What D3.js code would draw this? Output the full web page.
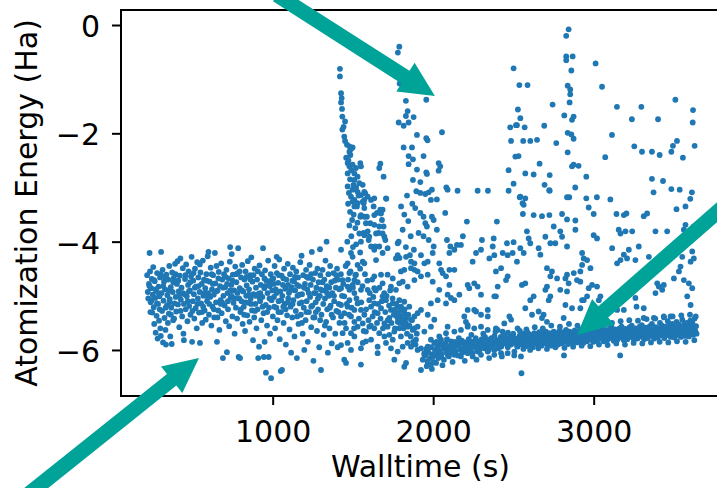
<!DOCTYPE html>
<html><head><meta charset="utf-8">
<script src="https://cdn.jsdelivr.net/npm/d3@7"></script>
<style>body{margin:0;background:#fff;} svg{display:block;font-family:"DejaVu Sans",sans-serif;}</style>
</head><body><svg id="c" width="717" height="488"></svg>
<script>
const xTicks=[1000,2000,3000];
const yTicks=[0,-2,-4,-6];
const xLabel="Walltime (s)";
const yLabel="Atomization Energy (Ha)";

// walltime (s), atomization energy (Ha)
const earlyCloud=[
[218,-4.62],[222,-4.93],[225,-5.05],[229,-4.78],[233,-4.21],[236,-4.55],[240,-5.12],[243,-4.86],[247,-4.69],[250,-5.31],[253,-4.98],[256,-4.47],[259,-5.21],[262,-5.52],[265,-4.73],[268,-5.04],[271,-5.68],[274,-4.91],[277,-5.37],[280,-4.58],[283,-5.79],[286,-5.15],[289,-4.83],[292,-5.46],[295,-5.01],[298,-4.66],[300,-5.6],
[303,-5.74],[305,-4.19],[308,-4.95],[311,-5.28],[314,-4.52],[317,-5.86],[320,-5.09],[323,-4.74],[326,-5.41],[329,-4.88],[332,-5.63],[335,-5.9],[338,-4.61],[341,-5.18],[344,-4.99],[347,-5.5],[350,-4.7],[353,-5.33],[356,-4.45],[359,-5.06],[362,-5.75],[365,-4.84],[368,-5.22],[371,-5.89],[374,-4.57],[377,-4.93],[380,-5.45],[384,-4.67],[388,-5.14],[392,-4.41],[396,-5.02],[399,-5.29],
[403,-4.78],[407,-4.36],[410,-5.16],[414,-4.92],[418,-5.58],[421,-4.63],[425,-4.31],[428,-5.07],[432,-4.85],[436,-5.38],[440,-4.49],[444,-5.7],[447,-5.82],[450,-4.97],[454,-4.69],[458,-5.25],[461,-4.42],[465,-5.01],[469,-5.47],[473,-4.8],[476,-4.55],[480,-5.19],[484,-4.9],[488,-5.35],[491,-4.64],[495,-4.28],[498,-5.85],
[502,-5.1],[505,-4.72],[509,-4.97],[512,-5.42],[516,-4.5],[520,-5.23],[523,-4.83],[527,-5.6],[530,-4.38],[534,-5.05],[537,-4.66],[541,-5.31],[545,-4.93],[547,-5.87],[550,-4.57],[554,-5.14],[558,-4.78],[561,-5.5],[565,-4.35],[568,-5.0],[572,-4.7],[576,-5.27],[580,-4.86],[583,-5.44],[587,-4.6],[591,-5.1],[595,-4.27],[598,-4.95],
[600,-4.19],[603,-5.35],[607,-4.74],[611,-5.02],[614,-4.48],[618,-5.55],[622,-4.88],[625,-5.2],[629,-4.62],[633,-4.98],[636,-5.4],[640,-4.21],[643,-4.77],[647,-5.12],[650,-4.45],[653,-5.85],[657,-4.9],[661,-5.27],[664,-4.56],[668,-5.63],[672,-4.82],[675,-5.08],[679,-4.4],[682,-5.32],[686,-4.7],[690,-6.15],[693,-5.0],[697,-4.6],
[701,-5.18],[704,-4.84],[708,-5.47],[712,-4.52],[715,-6.04],[719,-4.95],[722,-5.25],[726,-4.68],[729,-5.56],[733,-4.37],[735,-4.1],[738,-5.04],[742,-4.8],[745,-4.23],[749,-5.38],[752,-4.61],[756,-5.13],[760,-4.9],[763,-5.7],[767,-4.46],[771,-5.22],[774,-4.75],[778,-5.42],[782,-4.58],[785,-4.12],[788,-6.13],[791,-5.05],[795,-4.86],[797,-6.15],[799,-5.3],
[803,-4.66],[806,-5.1],[810,-4.43],[813,-5.52],[817,-4.92],[820,-5.2],[824,-4.7],[828,-5.65],[831,-4.55],[835,-5.0],[838,-4.81],[842,-5.36],[845,-4.36],[849,-5.13],[853,-4.88],[856,-5.48],[860,-4.62],[863,-5.05],[867,-4.29],[871,-5.27],[874,-4.74],[878,-5.82],[881,-4.97],[885,-5.4],[888,-4.5],[892,-5.15],[896,-4.85],[899,-5.6],
[903,-4.7],[906,-5.25],[910,-6.15],[913,-4.96],[915,-5.94],[918,-4.44],[922,-5.1],[925,-4.8],[929,-5.45],[933,-4.6],[936,-5.02],[940,-4.12],[943,-5.32],[945,-6.13],[948,-4.86],[950,-5.85],[953,-4.53],[957,-5.17],[958,-6.42],[961,-4.72],[965,-5.55],[968,-4.95],[972,-4.35],[975,-6.13],[977,-5.22],[981,-4.82],[984,-5.7],[988,-4.6],[990,-6.52],[993,-5.08],[997,-4.9],
[1001,-5.38],[1004,-4.68],[1008,-5.02],[1012,-4.45],[1015,-5.6],[1019,-4.88],[1023,-5.22],[1025,-4.28],[1026,-4.58],[1030,-5.45],[1034,-4.76],[1037,-5.1],[1041,-4.33],[1044,-5.8],[1048,-4.92],[1050,-6.39],[1052,-5.3],[1056,-4.63],[1058,-6.37],[1060,-5.0],[1064,-4.8],[1068,-5.5],[1071,-4.5],[1075,-5.15],[1079,-4.87],[1082,-5.9],[1086,-4.7],[1090,-5.36],[1094,-4.41],[1097,-5.05],
[1101,-4.95],[1105,-5.62],[1108,-4.6],[1112,-5.2],[1115,-6.05],[1118,-4.84],[1122,-5.4],[1126,-4.48],[1129,-5.08],[1133,-4.73],[1136,-5.75],[1140,-4.9],[1144,-5.28],[1147,-4.55],[1151,-6.15],[1154,-5.0],[1158,-4.66],[1161,-5.52],[1165,-4.82],[1168,-5.14],[1172,-4.38],[1176,-5.35],[1180,-4.26],[1183,-4.97],[1187,-5.7],[1190,-4.62],[1194,-5.22],[1197,-6.0],
[1201,-4.78],[1205,-5.45],[1208,-4.52],[1212,-5.1],[1215,-4.88],[1219,-5.85],[1222,-4.67],[1226,-5.3],[1230,-4.43],[1233,-5.02],[1237,-4.8],[1240,-5.58],[1244,-4.19],[1247,-5.18],[1251,-4.7],[1254,-6.2],[1258,-4.95],[1261,-5.4],[1265,-4.58],[1268,-5.12],[1272,-4.85],[1276,-5.65],[1279,-4.5],[1283,-5.25],[1286,-4.75],[1290,-5.95],[1294,-5.0],[1295,-4.14],[1297,-4.62],[1301,-6.37],
[1304,-5.35],[1308,-4.9],[1311,-4.52],[1315,-5.15],[1318,-5.72],[1322,-4.7],[1326,-5.05],[1329,-4.35],[1333,-5.48],[1336,-4.82],[1340,-5.25],[1344,-6.05],[1347,-4.6],[1351,-5.0],[1354,-5.6],[1358,-4.45],[1361,-5.18],[1365,-4.75],[1368,-5.88],[1372,-4.95],[1376,-5.4],[1379,-4.58],[1383,-5.1],[1390,-5.7],[1394,-4.85],[1397,-5.28],[1401,-4.5],[1405,-5.95],[1408,-4.7],[1412,-5.15],[1416,-5.5]
];
const earlyCore=[
[232,-4.82],[246,-5.08],[261,-4.71],[279,-5.14],[290,-4.95],[302,-4.6],[318,-4.82],[333,-5.22],[349,-4.9],[366,-5.35],[381,-4.75],[395,-4.6],[412,-4.72],[426,-5.28],[441,-4.95],[456,-4.62],[471,-5.1],[486,-4.75],[500,-5.28],[515,-4.85],[531,-5.15],[546,-4.42],[560,-5.3],[574,-4.95],[589,-4.72],[605,-5.15],[620,-4.6],[634,-5.25],[648,-4.92],[662,-4.68],[677,-5.15],[691,-4.85],[706,-4.65],[721,-5.1],[736,-4.9],[750,-4.72],[765,-5.05],[780,-4.95],[794,-4.55],[808,-4.9],[822,-5.35],[837,-4.65],[851,-4.98],[866,-5.15],[880,-4.62],[894,-5.0],[908,-4.55],[923,-4.95],[937,-5.2],[952,-4.82],[966,-5.3],[980,-5.05],[995,-4.7],[1010,-5.2],[1024,-4.95],[1039,-4.62],[1053,-5.08],[1067,-4.68],[1081,-5.25],[1096,-4.8],[1110,-4.9],[1124,-5.15],[1139,-4.65],[1153,-5.38],[1167,-4.98],[1182,-5.5],[1196,-4.85],[1210,-5.3],[1225,-4.95],[1239,-4.6],[1253,-5.4],[1268,-4.95],[1282,-5.05],[1296,-5.45],[1310,-4.75],[1325,-5.55],[1339,-4.95],[1353,-4.85],[1367,-5.35],[1382,-5.0],[1396,-4.62],[1410,-5.3],
[238,-5.3],[270,-4.88],[296,-5.25],[327,-4.65],[357,-5.12],[386,-5.42],[417,-5.0],[447,-5.15],[478,-4.92],[507,-4.58],[538,-4.82],[567,-5.2],[596,-5.02],[627,-4.78],[656,-5.4],[685,-5.12],[716,-4.78],[744,-5.0],[773,-4.6],[802,-5.25],[832,-5.12],[861,-4.7],[890,-5.28],[920,-5.05],[949,-4.68],[978,-4.75],[1007,-4.78],[1036,-5.3],[1066,-5.2],[1094,-5.12],[1123,-4.72],[1152,-4.8],[1181,-5.12],[1211,-4.65],[1240,-5.2],[1269,-5.3],[1298,-4.88],[1327,-4.9],[1356,-5.22],[1386,-4.72],[1415,-4.88]
];
const spikeOne=[
[1419,-0.81],[1419,-0.95],[1426,-1.26],[1430,-1.35],[1426,-1.43],[1432,-1.55],[1434,-1.69],[1451,-1.78],[1442,-1.88],[1434,-1.93],[1446,-2.06],[1451,-2.14],[1463,-2.21],[1478,-2.24],[1488,-2.29],[1498,-2.26],[1478,-2.34],[1484,-2.4],[1467,-2.55],[1478,-2.61],[1498,-2.58],[1519,-2.64],[1546,-2.55],[1550,-2.61],[1467,-2.74],[1509,-2.74],[1529,-2.8],[1509,-2.86],[1540,-2.92],[1561,-2.95],[1467,-2.98],[1498,-3.04],[1529,-3.08],[1571,-3.08],[1550,-3.14],[1592,-3.17],[1488,-3.17],[1509,-3.23],[1571,-3.23],[1633,-3.2],[1671,-2.56],[1664,-2.64],[1691,-2.8],[1706,-3.2],
[1458,-2.45],[1472,-2.5],[1490,-2.68],[1503,-2.95],[1520,-3.0],[1482,-2.85],[1535,-3.15],[1475,-3.1],
[1577,-3.11],[1629,-3.35],[1650,-3.47],[1670,-3.41],[1681,-3.6],[1691,-3.72],[1660,-3.84],[1702,-3.97],[1639,-4.09],[1598,-3.97],[1567,-3.84],[1546,-3.54],[1525,-3.35],[1587,-3.54],[1608,-3.66],[1567,-3.29],
[1498,-3.26],[1529,-3.29],[1561,-3.26],[1613,-3.23],[1509,-3.35],[1571,-3.38],[1550,-3.51],[1571,-3.54],[1633,-3.51],[1675,-3.48],[1685,-3.41],[1581,-3.66],[1633,-3.69],[1664,-3.72],[1592,-3.81],[1571,-3.88],[1644,-3.85],[1685,-3.85],[1696,-3.91],[1550,-4.0],[1602,-3.91],[1613,-4.09],[1633,-4.15],[1664,-4.09],[1685,-4.21],[1716,-4.12],[1644,-4.34],[1571,-4.4],[1561,-4.37],[1529,-4.43],[1488,-4.21],[1498,-4.28],[1467,-4.4],[1426,-4.15],[1336,-4.0],
[1470,-3.3],[1482,-3.45],[1495,-3.6],[1505,-3.5],[1515,-3.75],[1528,-3.65],[1490,-3.9],[1520,-4.05],[1540,-3.85],[1478,-3.7],[1500,-4.1],[1545,-4.2],[1465,-4.0]
];
const spikeTwo=[
[1789,-0.4],[1780,-0.51],[1791,-1.08],[1830,-1.4],[1957,-1.38],[1841,-1.59],[1830,-1.68],[1878,-1.7],[1785,-1.8],[1816,-1.86],[1847,-1.8],[1899,-2.03],[1957,-2.09],[1965,-2.13],[2055,-1.98],[1816,-2.26],[1868,-2.26],[1847,-2.42],[1874,-2.48],[1940,-2.42],[1847,-2.57],[1899,-2.67],[1957,-2.72],[2034,-2.55],[2044,-2.61],[2034,-2.69],[1874,-2.86],[1920,-2.9],[1961,-2.75],[1837,-3.15],[1895,-3.07],[1920,-3.1],[1951,-3.12],[1972,-3.09],[1992,-3.04],[2023,-3.22],[1986,-3.23],[1708,-3.21],
[2082,-3.0],[2090,-3.04],[2152,-3.06],[2277,-3.06],[2341,-3.06],
[1888,-3.38],[1920,-3.47],[1940,-3.54],[1951,-3.66],[1961,-3.72],[1992,-3.54],[2003,-3.6],[2023,-3.78],[1909,-3.84],[1940,-3.9],[1972,-3.97],[2003,-4.09],[2075,-3.47],[2086,-3.97],[2107,-4.09],[2148,-4.06],[2185,-3.9],[2210,-3.63],[2304,-3.97],[2377,-3.94],[2397,-3.63],[2460,-4.03],[2501,-4.01],[2543,-4.12],[1785,-4.0],
[1800,-3.35],[1820,-3.5],[1845,-3.62],[1810,-3.78],[1860,-3.9],[1830,-4.1],[1870,-3.3],[1855,-4.25],[1790,-4.3],[1880,-4.15]
];
const midCloud=[
[1779,-4.03],[1779,-4.25],[1768,-4.31],[1831,-4.28],[1862,-4.37],[1883,-4.4],[1924,-4.25],[1945,-4.4],[1799,-4.55],[1820,-4.52],[1862,-4.49],[1883,-4.52],[1716,-4.61],[1748,-4.68],[1675,-4.61],[1633,-4.64],[1633,-4.86],[1685,-4.77],[1737,-4.83],[1768,-4.89],[1789,-4.77],[1810,-4.74],[1841,-4.83],[1883,-4.71],[1903,-4.55],[1924,-4.64],[1966,-4.61],[1966,-4.37],[1997,-4.21],[2038,-4.4],[2049,-4.52],[2059,-4.58],[2080,-4.64],[2101,-4.52],[2132,-4.52],[2101,-4.8],[1997,-4.74],[2038,-4.89],[2090,-4.98],[2111,-5.04],[2163,-4.98],[2215,-4.8],[2256,-4.77],[2225,-4.86],[2277,-4.83],[2246,-4.37],[2267,-4.21],[2298,-4.15],[2350,-4.31],[2381,-4.25],[2433,-4.21],[2495,-4.21],[2391,-4.55],[2423,-4.49],[2464,-4.64],[2454,-4.71],[2402,-4.83],[2391,-5.01],[2298,-4.98],[2215,-5.26],[2267,-5.29],[2340,-5.26],[2381,-5.01],[2204,-5.48],[2215,-5.54],[2090,-5.57],[2038,-5.75],[1986,-5.57],[1945,-5.66],[1903,-5.57],[1862,-5.44],[1924,-5.26],[1986,-5.14],[2028,-5.08],[2080,-5.14],[2132,-5.08],[2007,-5.44],[1966,-5.35],[2371,-4.09],[2464,-4.25],[2132,-4.15],[2173,-4.06],[2101,-4.21],
[1758,-5.26],[1779,-5.2],[1799,-5.26],[1820,-5.32],[1768,-5.35],[1799,-5.38],[1831,-5.41],[1779,-5.48],[1810,-5.51],[1841,-5.57],[1872,-5.63],[1789,-5.6],[1758,-5.66],[1716,-5.57],[1696,-5.51],[1727,-5.41],[1748,-5.14],[1789,-5.08],[1820,-5.11],[1851,-5.2],[1883,-5.38],[1903,-5.32],[1737,-5.26],[1675,-5.23],[1706,-5.08],[1685,-5.01],[1633,-5.14],[1613,-5.2],[1602,-5.08],[1654,-5.32],[1623,-5.38],[1571,-5.35],[1550,-5.26],[1529,-5.14],[1509,-4.95],[1550,-4.89],[1592,-4.89],[1509,-5.26],[1478,-5.08],[1467,-5.2],[1446,-5.32],[1426,-5.38],[1446,-5.01],[1478,-4.89],[1426,-5.17],[1488,-5.38],[1509,-5.48],[1529,-5.57],[1561,-5.51],[1581,-5.66],[1602,-5.57],[1633,-5.6],[1664,-5.69],[1696,-5.75],[1727,-5.72],[1748,-5.81],[1799,-5.75],[1810,-5.94],[1841,-5.87],[1862,-5.94],[1893,-5.81],[1903,-6.0],[1924,-5.97],[1945,-6.06],[1966,-5.94],[1935,-6.18],[1966,-6.24],[1924,-6.37],[1820,-6.31],[1831,-6.24],[1779,-6.03],[1737,-5.97],[1561,-5.87],[1581,-5.84],[1509,-5.75],[1488,-5.69],[1457,-5.6],[1436,-5.69],[1446,-6.18],[1457,-6.24],[1550,-6.27],[1654,-6.06],[1426,-5.91],[1467,-5.87],[1488,-6.0],[1550,-5.97],[1613,-5.81],[1654,-5.94],[1706,-5.87],[1758,-6.18],
[1478,-4.58],[1519,-4.61],[1509,-4.71],[1498,-4.8],[1467,-4.83],[1426,-4.86],[1436,-4.71],
[1425,-4.6],[1432,-5.0],[1440,-4.78],[1448,-5.5],[1455,-4.45],[1462,-5.15],[1470,-4.7],[1476,-5.35],[1485,-4.55],[1492,-5.22],[1500,-4.85],[1507,-5.6],[1515,-4.62],[1522,-5.05],[1530,-4.75],[1537,-5.42],[1545,-4.5],[1552,-5.12],[1560,-4.82],[1567,-5.65],[1575,-4.6],[1582,-5.25],[1590,-4.72],[1597,-5.45],[1605,-4.95],[1612,-5.55],[1620,-4.7],[1627,-5.02],[1635,-5.3],[1642,-4.9],[1650,-5.5],[1657,-5.15],[1665,-4.85],[1672,-5.42],[1680,-5.1],[1687,-5.6],[1695,-4.95],[1702,-5.3],[1710,-5.0],[1717,-5.45],[1725,-5.18],[1732,-4.9],[1740,-5.5],[1747,-5.05],[1755,-5.35],[1762,-5.6],[1770,-5.15],[1777,-5.4],[1785,-5.3],[1792,-5.5],[1800,-5.2],[1807,-5.45],[1815,-5.6],[1822,-5.25],[1830,-5.5],[1837,-5.7],[1845,-5.35],[1852,-5.55],[1860,-5.75],[1868,-5.45],[1875,-5.85],[1883,-5.6],[1890,-5.9],[1898,-5.7]
];
const bandEarly=[
[1986,-5.81],[2007,-5.87],[2028,-5.94],[2049,-5.81],[2069,-5.91],[2090,-5.97],[2111,-5.84],[2132,-5.94],[2153,-5.87],[2173,-6.0],[2194,-5.91],[2215,-5.97],[2236,-5.84],[2256,-5.94],[2277,-6.03],[2298,-5.87],[2319,-5.97],[2340,-5.81],[2360,-5.91],[2381,-6.0],[2402,-5.84],[2423,-5.94],[2443,-5.75],[2464,-5.87],[2485,-5.81],[2506,-5.78],[2526,-5.94],[2547,-5.84],[2028,-6.06],[2049,-6.12],[2090,-6.09],[2132,-6.09],[2173,-6.12],[2215,-6.06],[2246,-6.12],[2298,-6.09],[2340,-6.03],[2381,-6.09],[2423,-6.06],[2464,-6.06],[2506,-6.03],[1997,-6.12],[1986,-6.27],[1966,-6.03],[2018,-6.24],[1945,-6.09],[2038,-6.03],[2080,-5.69],[2132,-5.66],[2173,-5.63],[2215,-5.57],[2256,-5.6],[2298,-5.57],[2340,-5.63],[2391,-5.6],[2443,-5.51],[2485,-5.44],[2526,-5.6],[2475,-5.38],[2547,-6.12],[2194,-5.38],[2256,-5.26],[2298,-5.35],[2340,-5.38],[2402,-5.63],[2433,-5.66],
[1950,-6.1],[1957,-5.98],[1966,-6.2],[1971,-6.05],[1981,-6.15],[1987,-5.95],[1996,-6.08],[2003,-6.22],[2011,-6.0],[2016,-6.1],[2025,-5.92],[2032,-6.15],[2037,-6.02],[2047,-5.9],[2052,-6.08],[2061,-5.98],[2067,-6.18],[2076,-5.88],[2083,-6.04],[2089,-5.93],[2098,-6.12],[2103,-6.0],[2113,-5.9],[2118,-6.05],[2127,-5.96],[2134,-5.85],[2140,-6.02],[2149,-5.92],[2155,-6.1],[2164,-5.88],[2169,-5.98],[2179,-5.83],[2184,-6.04],[2193,-5.94],[2201,-5.86],[2206,-6.0],[2215,-5.9],[2221,-5.8],[2230,-5.97],[2235,-5.88],[2245,-6.05],[2250,-5.85],[2259,-5.95],[2265,-5.78],[2274,-5.92],[2279,-5.84],[2289,-6.0],[2294,-5.9],[2303,-5.8],[2309,-5.95],[2318,-5.86],[2323,-5.76],[2333,-5.92],[2338,-5.84],[2347,-6.0],[2353,-5.88],[2362,-5.78],[2367,-5.94],[2377,-5.85],[2382,-5.74],[2391,-5.9],[2397,-5.82],[2406,-5.97],[2411,-5.86],[2421,-5.76],[2426,-5.92],[2435,-5.83],[2441,-5.72],[2450,-5.88],[2455,-5.8],[2465,-5.95],[2470,-5.84],[2479,-5.75],[2485,-5.9],[2494,-5.81],[2499,-5.7],[2509,-5.87],[2514,-5.79],[2523,-5.93],[2529,-5.83],[2538,-5.74],[2543,-5.89],
[1960,-6.3],[1992,-6.35],[2021,-5.85],[2058,-6.28],[2086,-5.8],[2121,-6.22],[2160,-5.78],[2197,-6.2],[2238,-5.72],[2270,-6.18],[2312,-5.7],[2349,-6.15],[2388,-5.66],[2428,-6.12],[2466,-5.68],[2505,-6.1],[2540,-5.65]
];
const bandLate=[
[2553,-5.74],[2558,-5.9],[2562,-5.82],[2567,-5.7],[2571,-5.86],[2576,-5.78],[2580,-5.93],[2585,-5.8],[2589,-5.68],[2594,-5.85],[2598,-5.76],[2603,-5.9],[2607,-5.72],[2612,-5.83],[2616,-5.77],[2621,-5.95],[2625,-5.8],[2630,-5.69],[2634,-5.87],[2639,-5.75],[2643,-5.84],[2648,-5.71],[2652,-5.9],[2657,-5.79],[2661,-5.67],[2666,-5.84],[2670,-5.76],[2675,-5.92],[2679,-5.74],[2684,-5.82],[2688,-5.7],[2693,-5.88],[2697,-5.78],[2702,-5.66],[2706,-5.85],[2711,-5.73],[2715,-5.9],[2720,-5.79],[2724,-5.69],[2729,-5.83],[2733,-5.75],[2738,-5.92],[2742,-5.71],[2747,-5.81],[2751,-5.66],[2756,-5.86],[2760,-5.76],[2765,-5.69],[2769,-5.84],[2774,-5.73],[2778,-5.9],[2783,-5.78],[2787,-5.65],[2792,-5.82],[2796,-5.74],[2801,-5.88],[2805,-5.7],[2810,-5.8],[2814,-5.67],[2819,-5.85],[2823,-5.75],[2828,-5.63],[2832,-5.82],[2837,-5.72],[2841,-5.89],[2846,-5.77],[2850,-5.66],[2855,-5.84],[2859,-5.73],[2864,-5.8],[2868,-5.68],[2873,-5.87],[2877,-5.75],[2882,-5.64],[2886,-5.81],[2891,-5.72],[2895,-5.86],[2900,-5.7],[2904,-5.78],[2909,-5.65],[2913,-5.83],[2918,-5.74],[2922,-5.62],[2927,-5.8],[2931,-5.7],[2936,-5.87],[2940,-5.76],[2945,-5.66],[2949,-5.82],[2954,-5.72],[2958,-5.84],[2963,-5.68],[2967,-5.77],[2972,-5.63],[2976,-5.81],[2981,-5.72],[2985,-5.6],[2990,-5.78],[2994,-5.69],[2999,-5.85],[3003,-5.74],[3008,-5.64],[3012,-5.8],[3017,-5.7],[3021,-5.83],[3026,-5.66],[3030,-5.75],[3035,-5.62],[3039,-5.79],[3044,-5.7],[3048,-5.59],[3053,-5.77],[3057,-5.68],[3062,-5.84],[3066,-5.72],[3071,-5.63],[3075,-5.79],[3080,-5.69],[3084,-5.82],[3089,-5.65],[3093,-5.74],[3098,-5.61],[3102,-5.78],[3107,-5.69],[3111,-5.58],[3116,-5.76],[3120,-5.67],[3125,-5.83],[3129,-5.71],[3134,-5.62],[3138,-5.78],[3143,-5.68],[3147,-5.81],[3152,-5.64],[3156,-5.73],[3161,-5.6],[3165,-5.77],[3170,-5.68],[3174,-5.57],[3179,-5.75],[3183,-5.66],[3188,-5.82],[3192,-5.7],[3197,-5.61],[3201,-5.77],[3206,-5.67],[3210,-5.8],[3215,-5.63],[3219,-5.72],[3224,-5.58],[3228,-5.76],[3233,-5.67],[3237,-5.55],[3242,-5.74],[3246,-5.65],[3251,-5.81],[3255,-5.69],[3260,-5.6],[3264,-5.76],[3269,-5.66],[3273,-5.79],[3278,-5.62],[3282,-5.71],[3287,-5.57],[3291,-5.75],[3296,-5.66],[3300,-5.54],[3305,-5.73],[3309,-5.64],[3314,-5.8],[3318,-5.68],[3323,-5.59],[3327,-5.75],[3332,-5.65],[3336,-5.78],[3341,-5.61],[3345,-5.7],[3350,-5.56],[3354,-5.74],[3359,-5.65],[3363,-5.52],[3368,-5.72],[3372,-5.63],[3377,-5.79],[3381,-5.67],[3386,-5.58],[3390,-5.74],[3395,-5.64],[3399,-5.77],[3404,-5.6],[3408,-5.69],[3413,-5.5],[3417,-5.73],[3422,-5.64],[3426,-5.55],[3431,-5.71],[3435,-5.62],[3440,-5.78],[3444,-5.66],[3449,-5.57],[3453,-5.73],[3458,-5.63],[3462,-5.47],[3467,-5.59],[3471,-5.7],[3476,-5.55],[3480,-5.76],[3485,-5.64],[3489,-5.52],[3494,-5.69],[3498,-5.61],[3503,-5.77],[3507,-5.58],[3512,-5.67],[3516,-5.48],[3521,-5.72],[3525,-5.62],[3530,-5.53],[3534,-5.7],[3539,-5.6],[3543,-5.76],[3548,-5.64],[3552,-5.44],[3557,-5.56],[3561,-5.69],[3566,-5.52],[3570,-5.74],[3575,-5.62],[3579,-5.5],[3584,-5.67],[3588,-5.58],[3593,-5.75],[3597,-5.63],[3602,-5.46],[3606,-5.55],[3611,-5.68],[3615,-5.5],[3620,-5.72],[3624,-5.6],[3629,-5.42],[3633,-5.65],[3638,-5.56],[3641,-5.7],
[2562,-5.98],[2581,-5.62],[2604,-6.0],[2633,-5.58],[2655,-5.97],[2683,-5.6],[2709,-5.98],[2736,-5.55],[2762,-5.95],[2790,-5.57],[2818,-5.96],[2846,-5.52],[2872,-5.94],[2899,-5.55],[2925,-5.92],[2953,-5.5],[2979,-5.93],[3006,-5.52],[3033,-5.9],[3060,-5.48],[3087,-5.91],[3114,-5.5],[3141,-5.88],[3168,-5.47],[3195,-5.9],[3222,-5.45],[3249,-5.87],[3276,-5.46],[3303,-5.88],[3330,-5.43],[3357,-5.86],[3384,-5.42],[3411,-5.85],[3438,-5.4],[3465,-5.86],[3492,-5.38],[3519,-5.84],[3546,-5.36],[3573,-5.85],[3600,-5.35],[3627,-5.82],[3636,-5.38],
[2550,-6.43],[2815,-6.1],[3165,-6.1]
];
const upperScatter=[
[2501,-0.8],[2537,-1.11],[2588,-1.11],[2528,-1.56],[2543,-1.72],[2480,-1.89],[2516,-1.85],[2570,-1.89],[2485,-2.14],[2561,-2.14],[2605,-2.14],[2647,-2.12],[2744,-1.47],[2692,-1.86],[2767,-2.18],[2663,-2.56],[2512,-2.43],[2532,-2.42],[2470,-2.68],[2501,-2.93],[2574,-2.74],[2626,-2.76],[2726,-2.77],[2694,-2.95],[2726,-3.06],
[2844,-0.08],[2829,-0.2],[2829,-0.58],[2869,-0.58],[2829,-0.65],[2861,-0.84],[2838,-1.12],[2854,-1.19],[2854,-1.28],[2850,-1.43],[2817,-1.67],[2875,-1.69],[2865,-1.75],[2838,-1.99],[2861,-2.02],[2875,-2.1],[2838,-2.35],[2875,-2.58],[2906,-2.6],[2865,-2.61],[2885,-3.0],[2848,-3.18],[2834,-3.18],
[3012,-0.71],[3052,-1.14],[3114,-2.03],[3072,-2.44],[2954,-2.8],[2954,-3.2],[3020,-3.18],[3104,-3.22],[3145,-1.51],[3297,-1.51],[3238,-1.74],[3401,-1.74],[3253,-2.24],[3301,-2.34],[3363,-2.34],[3411,-2.4],[3484,-2.34],[3494,-2.23],[3519,-2.14],[3556,-2.45],[3509,-1.38],[3619,-1.57],[3617,-1.8],[3629,-2.23],[3363,-2.84],[3432,-2.88],[3373,-3.09],[3484,-3.03],[3536,-3.04],[3612,-3.09],[3602,-3.21],
[2522,-1.85],[2543,-3.17],[2557,-3.29],[2574,-3.2],[2470,-3.06],[2539,-3.18],[2564,-3.32],[2723,-3.05]
];
const lowerScatter=[
[2559,-3.49],[2626,-3.51],[2678,-3.53],[2724,-3.51],[2803,-3.49],[2834,-3.59],[2886,-3.61],[2969,-3.37],[3000,-3.49],[3142,-3.49],[3188,-3.51],[3204,-3.48],[3312,-3.53],[3333,-3.48],[3516,-3.4],[3572,-3.35],[3572,-3.69],
[2584,-3.81],[2595,-3.94],[2605,-4.03],[2564,-4.21],[2522,-4.37],[2657,-4.12],[2668,-4.24],[2699,-3.91],[2730,-4.03],[2751,-3.72],[2761,-4.03],[2792,-3.81],[2803,-3.91],[2834,-4.09],[2886,-3.78],[3000,-3.88],[3021,-3.94],[3115,-4.12],[3156,-3.78],[3167,-3.85],[3198,-3.81],[3240,-3.81],[3219,-4.15],[3188,-4.24],[3208,-4.31],[3260,-4.34],[3281,-4.09],[3344,-4.28],[3385,-3.81],[3458,-3.81],[3614,-4.18],[3624,-4.31],[3604,-4.37],[3552,-4.28],[3541,-4.46],[3531,-4.55],[3562,-4.71],[3593,-4.77],[3614,-4.86],[3583,-5.01],[3604,-5.17],[3500,-4.68],[3396,-4.77],[3406,-4.83],[3427,-4.89],[3437,-4.8],[3385,-4.95],[3312,-5.23],[3260,-5.04],[3267,-5.2],[3146,-4.4],[3167,-4.34],[2928,-4.21],[2938,-4.31],[2959,-4.34],[2928,-4.43],[2980,-4.49],[2917,-4.55],[2896,-4.71],[2876,-4.58],[2834,-4.61],[2772,-4.68],[2730,-4.64],[2740,-4.55],[2709,-4.49],[2709,-4.83],[2699,-4.89],[2730,-5.01],[2720,-5.08],[2626,-5.01],[2605,-5.08],[2574,-4.77],[2553,-4.8],[2574,-5.23],[2616,-5.35],[2688,-5.35],[2657,-5.29],[2678,-5.41],[2709,-5.48],[2813,-5.41],[2824,-5.17],[2865,-5.23],[2917,-5.23],[2938,-5.08],[2959,-5.01],[3021,-4.83],[3042,-5.01],[3032,-5.08],[3084,-5.2],[3146,-5.26],[3188,-5.26],[3312,-5.41],[3375,-5.41],[3437,-5.38],[3479,-5.38],[2990,-4.8],[2969,-4.86],[2792,-4.89],[2834,-4.92],[2844,-4.77],[2928,-5.08],[2917,-4.74],[2824,-4.68],
[3562,-3.78],[3572,-3.9],[3604,-3.85],[3624,-3.72],[3552,-4.09]
];
// annotation arrows: tail and tip in data coordinates
const arrows=[
{tail:[1027,0.554],tip:[2011,-1.31]},
{tail:[-574,-8.787],tip:[541,-6.147]},
{tail:[3912,-3.083],tip:[2896,-5.723]}
];

const svg=d3.select("#c");
const x=d3.scaleLinear().domain([55,3812]).range([121,724]);
const y=d3.scaleLinear().domain([-6.85,0.277]).range([396,10]);
const FS=30;

const points=[].concat(earlyCloud,earlyCore,spikeOne,spikeTwo,midCloud,bandEarly,bandLate,upperScatter,lowerScatter);

const plot=svg.append("g");
plot.selectAll("circle").data(points).join("circle")
  .attr("cx",d=>x(d[0])).attr("cy",d=>y(d[1])).attr("r",2.9).attr("fill","#1f77b4");

// axes
const xAxis=svg.append("g").attr("transform",`translate(0,${y.range()[0]})`)
  .call(d3.axisBottom(x).tickValues(xTicks).tickSize(9).tickPadding(16).tickFormat(d3.format("d")));
const yAxis=svg.append("g").attr("transform",`translate(${x.range()[0]},0)`)
  .call(d3.axisLeft(y).tickValues(yTicks).tickSize(9).tickPadding(12).tickFormat(d3.format("d")));
[xAxis,yAxis].forEach(g=>{
  g.select(".domain").remove();
  g.selectAll(".tick line").attr("stroke","#000").attr("stroke-width",2);
  g.selectAll(".tick text").attr("fill","#000").style("font-size",FS+"px").style("font-family","'DejaVu Sans',sans-serif");
});
yAxis.selectAll(".tick text").attr("dy","0.38em");

// frame
svg.append("rect").attr("x",x.range()[0]).attr("y",y.range()[1])
  .attr("width",x.range()[1]-x.range()[0]).attr("height",y.range()[0]-y.range()[1])
  .attr("fill","none").attr("stroke","#000").attr("stroke-width",2);

// labels
svg.append("text").attr("x",(x.range()[0]+x.range()[1])/2-2).attr("y",477)
  .attr("text-anchor","middle").style("font-size",FS+"px").attr("fill","#000").text(xLabel);
svg.append("text").attr("transform",`translate(37,${(y.range()[0]+y.range()[1])/2}) rotate(-90)`)
  .attr("text-anchor","middle").style("font-size",FS+"px").attr("fill","#000").text(yLabel);

// arrows
const HL=35, HW=17, SW=7.5;
svg.append("g").selectAll("path").data(arrows).join("path")
  .attr("fill","#00a398")
  .attr("d",a=>{
    const sx=x(a.tail[0]), sy=y(a.tail[1]), tx=x(a.tip[0]), ty=y(a.tip[1]);
    const len=Math.hypot(tx-sx,ty-sy), ux=(tx-sx)/len, uy=(ty-sy)/len, nx=-uy, ny=ux;
    const bx=tx-ux*HL, by=ty-uy*HL;
    const p=[[sx+nx*SW,sy+ny*SW],[bx+nx*SW,by+ny*SW],[bx+nx*HW,by+ny*HW],[tx,ty],[bx-nx*HW,by-ny*HW],[bx-nx*SW,by-ny*SW],[sx-nx*SW,sy-ny*SW]];
    return "M"+p.map(q=>q[0].toFixed(1)+","+q[1].toFixed(1)).join("L")+"Z";
  });
</script></body></html>
